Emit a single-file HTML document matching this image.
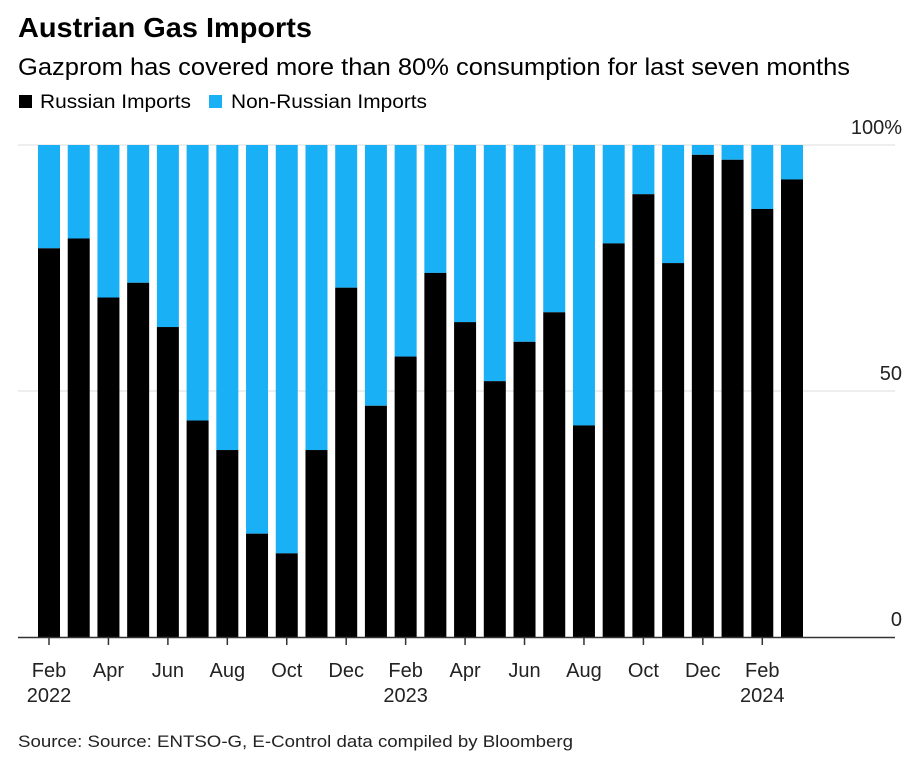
<!DOCTYPE html>
<html><head><meta charset="utf-8"><style>
body{margin:0;background:#fff;width:923px;height:758px;overflow:hidden;font-family:"Liberation Sans",Arial,sans-serif;}
</style></head><body>
<svg width="923" height="758" xmlns="http://www.w3.org/2000/svg">
<text x="18" y="37" font-size="28" font-weight="bold" fill="#000" textLength="294" lengthAdjust="spacingAndGlyphs">Austrian Gas Imports</text>
<text x="18" y="75" font-size="24" fill="#000" textLength="832" lengthAdjust="spacingAndGlyphs">Gazprom has covered more than 80% consumption for last seven months</text>
<g>
<rect x="19" y="95" width="13" height="13" fill="#000"/>
<text x="40" y="108" font-size="19" textLength="151" lengthAdjust="spacingAndGlyphs">Russian Imports</text>
<rect x="209" y="95" width="13" height="13" fill="#1ab0f5"/>
<text x="231" y="108" font-size="19" textLength="196" lengthAdjust="spacingAndGlyphs">Non-Russian Imports</text>
</g>
<g id="plot"></g>
<text x="18" y="747" font-size="17" fill="#222" textLength="555" lengthAdjust="spacingAndGlyphs">Source: Source: ENTSO-G, E-Control data compiled by Bloomberg</text>
</svg>
<script>
const months=["Feb","Mar","Apr","May","Jun","Jul","Aug","Sep","Oct","Nov","Dec","Jan","Feb","Mar","Apr","May","Jun","Jul","Aug","Sep","Oct","Nov","Dec","Jan","Feb","Mar"];
const years={0:"2022",12:"2023",24:"2024"};
const russian=[79,81,69,72,63,44,38,21,17,38,71,47,57,74,64,52,60,66,43,80,90,76,98,97,87,93];
const yTicks=[0,50,100];
const yTickLabels=["0","50","100%"];
const NS="http://www.w3.org/2000/svg";
const g=document.getElementById('plot');
const y0=637,y100=145,x0=38,step=29.72,bw=22;
const y=v=>y0-(y0-y100)*v/100;
const x=i=>x0+i*step;
function mk(t,a){const e=document.createElementNS(NS,t);for(const k in a)e.setAttribute(k,a[k]);g.appendChild(e);return e;}
yTicks.forEach((t,i)=>{
 if(t>0){const l=mk('line',{x1:18,x2:895,y1:y(t),y2:y(t),stroke:'#ddd','stroke-width':1});
 
 }
 const tx=mk('text',{x:902,y:y(t)-11,'font-size':20,'text-anchor':'end',fill:'#222'});
 tx.textContent=yTickLabels[i];
 
 
});
russian.forEach((v,i)=>{
 const nb=mk('rect',{x:x(i),y:y(100),width:bw,height:y(v)-y(100),fill:'#1ab0f5'});
 
 
 const b=mk('rect',{x:x(i),y:y(v),width:bw,height:y0-y(v),fill:'#000'});
 
 
 if(i%2===0){
  const cx=x(i)+bw/2;
  const tk=mk('line',{x1:cx,x2:cx,y1:y0,y2:y0+8,stroke:'#333','stroke-width':1.5});
  
  
  const t=mk('text',{x:cx,y:677,'font-size':20,'text-anchor':'middle',fill:'#222'});
  t.textContent=months[i];
  
  
  if(years[i]){const yt=mk('text',{x:cx,y:702,'font-size':20,'text-anchor':'middle',fill:'#222'});
   yt.textContent=years[i];
   
   }
 }
});
const base=mk('line',{x1:18,x2:895,y1:y0+0.5,y2:y0+0.5,stroke:'#333','stroke-width':1.5});


</script>
</body></html>
